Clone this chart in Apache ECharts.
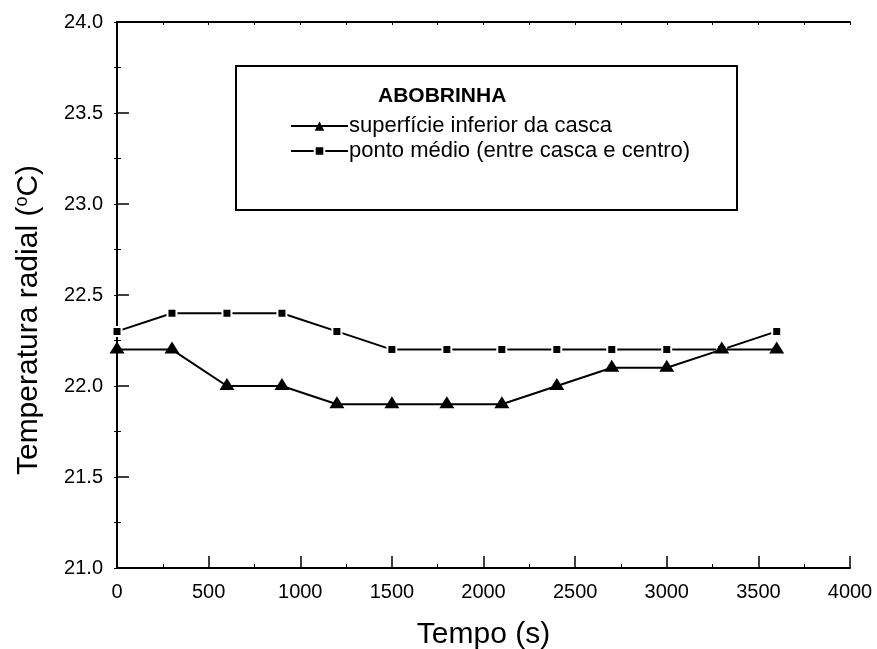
<!DOCTYPE html>
<html>
<head>
<meta charset="utf-8">
<script src="https://cdn.jsdelivr.net/npm/echarts@6/dist/echarts.min.js"></script>
<style>html,body{margin:0;padding:0;background:#fff;}#c{width:877px;height:649px;}</style>
</head>
<body>
<div id="c"></div>
<script>
var times = [0, 300, 600, 900, 1200, 1500, 1800, 2100, 2400, 2700, 3000, 3300, 3600];
var superficie = [22.2, 22.2, 22.0, 22.0, 21.9, 21.9, 21.9, 21.9, 22.0, 22.1, 22.1, 22.2, 22.2];
var pontoMedio = [22.3, 22.4, 22.4, 22.4, 22.3, 22.2, 22.2, 22.2, 22.2, 22.2, 22.2, 22.2, 22.3];
var seriesNames = ['superfície inferior da casca', 'ponto médio (entre casca e centro)'];
var legendTitle = 'ABOBRINHA';

var FONT = 'Liberation Sans, Arial, sans-serif';
function pairs(xs, ys){ return xs.map(function(x,i){ return [x, ys[i]]; }); }

var chart = echarts.init(document.getElementById('c'), null, {renderer:'canvas'});
var axisLine = {show:true, lineStyle:{color:'#000', width:2}};
chart.setOption({
  backgroundColor:'#fff',
  animation:false,
  grid:{left:117, right:27, top:22, bottom:81, containLabel:false, outerBoundsMode:'none'},
  xAxis:[{
    type:'value', min:0, max:4000, interval:500, position:'bottom',
    axisLine:axisLine,
    axisTick:{show:true, inside:true, length:12, lineStyle:{color:'#000', width:1.5}},
    minorTick:{show:true, splitNumber:2, length:4, lineStyle:{color:'#000', width:1}},
    axisLabel:{color:'#000', fontSize:20, fontFamily:FONT, margin:14, formatter:function(v){return String(v);}},
    splitLine:{show:false},
    name:'Tempo (s)', nameLocation:'middle', nameGap:52,
    nameTextStyle:{color:'#000', fontSize:30, fontFamily:FONT}
  },{
    type:'value', min:0, max:4000, interval:250, position:'top',
    axisLine:axisLine,
    axisTick:{show:true, inside:true, length:3, lineStyle:{color:'#000', width:1}},
    axisLabel:{show:false}, splitLine:{show:false}
  }],
  yAxis:[{
    type:'value', min:21, max:24, interval:0.5, position:'left',
    axisLine:axisLine,
    axisTick:{show:true, inside:true, length:12, lineStyle:{color:'#000', width:1.5}},
    minorTick:{show:true, splitNumber:2, length:4, lineStyle:{color:'#000', width:1}},
    axisLabel:{color:'#000', fontSize:20, fontFamily:FONT, margin:14, formatter:function(v){return v.toFixed(1);}},
    splitLine:{show:false},
    name:'{a|Temperatura radial (}{s|o}{a|C)}', nameLocation:'middle', nameGap:72, nameRotate:90,
    nameTextStyle:{color:'#000', fontFamily:FONT, padding:[0,50,0,0], rich:{
      a:{fontSize:30, fontFamily:FONT, color:'#000'},
      s:{fontSize:18, fontFamily:FONT, color:'#000', verticalAlign:'top', padding:[0,0,14,0]}
    }}
  },{
    type:'value', min:21, max:24, interval:0.25, position:'right',
    axisLine:axisLine,
    axisTick:{show:true, inside:true, length:3, lineStyle:{color:'#000', width:1}},
    axisLabel:{show:false}, splitLine:{show:false}
  }],
  legend:{
    left:285, top:110, orient:'vertical', itemGap:3, itemWidth:57, itemHeight:12,
    textStyle:{color:'#000', fontSize:22, fontFamily:FONT, padding:[0,0,0,-4]},
    data:seriesNames
  },
  graphic:[
    {type:'rect', shape:{x:236, y:66, width:501, height:144}, style:{fill:'none', stroke:'#000', lineWidth:2}, z:1},
    {type:'text', left:378, top:86, style:{text:legendTitle, fill:'#000', font:'bold 21px Liberation Sans, Arial, sans-serif'}, z:2}
  ],
  series:[{
    name:seriesNames[0], type:'line', data:pairs(times, superficie), z:4,
    symbol:'triangle', symbolSize:[15,12], symbolOffset:[0,-2], showAllSymbol:true,
    lineStyle:{color:'#000', width:2}, itemStyle:{color:'#000'}
  },{
    name:seriesNames[1], type:'line', data:pairs(times, pontoMedio), z:3,
    symbol:'rect', symbolSize:9, showAllSymbol:true,
    lineStyle:{color:'#000', width:2}, itemStyle:{color:'#000', borderColor:'#fff', borderWidth:2}
  }]
});
</script>
</body>
</html>
